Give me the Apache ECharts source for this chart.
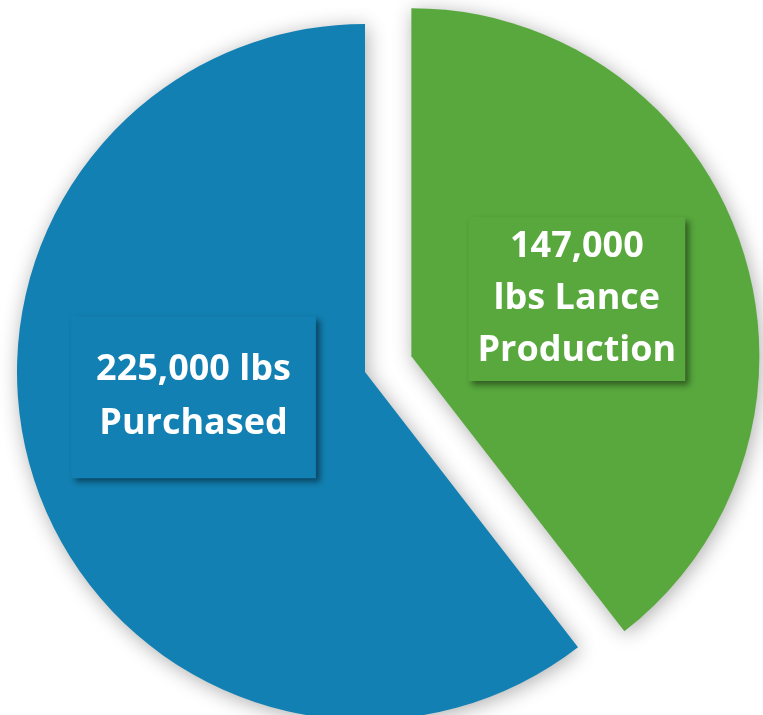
<!DOCTYPE html>
<html>
<head>
<meta charset="utf-8">
<script src="https://cdn.jsdelivr.net/npm/echarts@6/dist/echarts.min.js"></script>
<style>
html,body{margin:0;padding:0;background:#fff;}
#chart{width:763px;height:715px;}
</style>
</head>
<body>
<div id="chart"></div>
<script>
const categories = ["Lance Production", "Purchased"];
const values = [147000, 225000];
const labelTexts = ["147,000\nlbs Lance\nProduction", "225,000 lbs\nPurchased"];
const colors = ["#58A83D", "#1280B2"];

const chart = echarts.init(document.getElementById('chart'), null, {renderer: 'canvas'});

const labelStyles = [
  {lineHeight: 52, padding: [4, 9, 4, 9]},
  {lineHeight: 54, padding: [27, 25, 27, 25]}
];

const data = categories.map((c, i) => ({
  name: c,
  value: values[i],
  selected: i === 0,
  itemStyle: {color: colors[i]},
  select: {itemStyle: {color: colors[i]}},
  label: {
    formatter: labelTexts[i],
    backgroundColor: colors[i],
    lineHeight: labelStyles[i].lineHeight,
    padding: labelStyles[i].padding
  }
}));

chart.setOption({
  animation: false,
  backgroundColor: '#ffffff',
  series: [{
    type: 'pie',
    center: [365, 372],
    radius: [0, 348],
    startAngle: 90,
    clockwise: true,
    selectedMode: 'single',
    selectedOffset: 49,
    silent: true,
    emphasis: {disabled: true},
    itemStyle: {
      borderWidth: 0,
      shadowBlur: 20,
      shadowColor: 'rgba(0,0,0,0.32)',
      shadowOffsetX: 2,
      shadowOffsetY: 3
    },
    label: {
      show: true,
      position: 'inside',
      color: '#ffffff',
      fontFamily: '"Open Sans", "Noto Sans", sans-serif',
      fontWeight: 'bold',
      fontSize: 36,
      align: 'center',
      shadowBlur: 6,
      shadowColor: 'rgba(0,0,0,0.45)',
      shadowOffsetX: 4,
      shadowOffsetY: 4,
      textBorderWidth: 0
    },
    labelLine: {show: false},
    labelLayout: function (params) {
      if (params.dataIndex === 1) {
        return {dx: -4, dy: -32};
      }
      return {dx: -2};
    },
    data: data
  }]
});
</script>
</body>
</html>
